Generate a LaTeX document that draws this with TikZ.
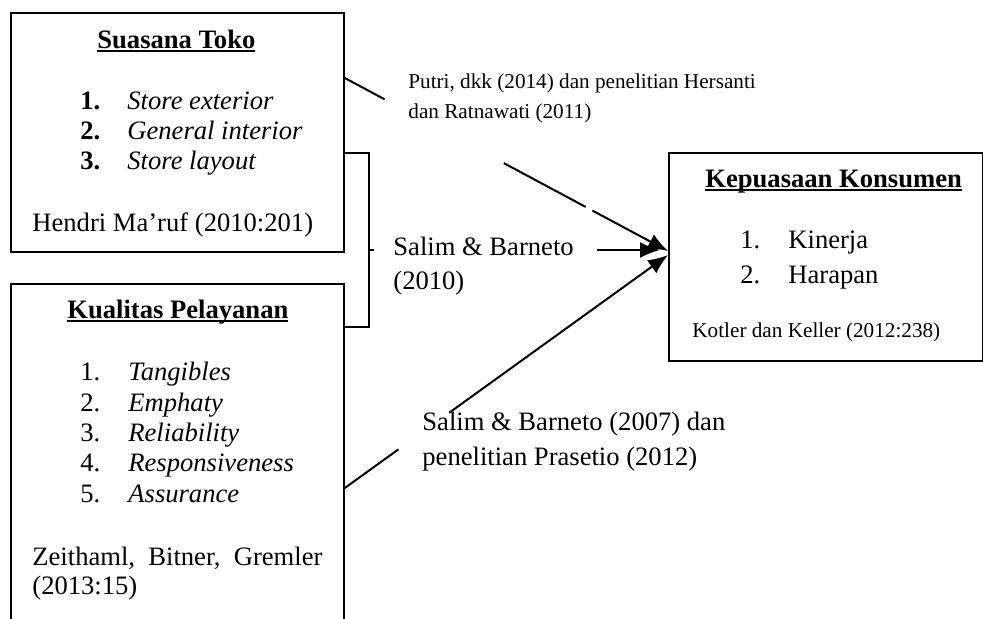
\documentclass[tikz,border=0pt]{standalone}
\usepackage{fontspec}
\setmainfont{Liberation Serif}
\usetikzlibrary{arrows.meta,calc}
\newcommand{\besar}{\fontsize{13.3}{15}\selectfont}
\newcommand{\kecil}{\fontsize{10.6}{12}\selectfont}
\newlength{\lebarJudul}
\newcommand{\garisbawah}[1]{\settowidth{\lebarJudul}{#1}\rlap{\rule[-2.1pt]{\lebarJudul}{0.9pt}}#1}
\tikzset{%
    kotak/.style={draw, line width=0.9pt, inner sep=0pt, anchor=north west},
    teks/.style={inner sep=0pt, anchor=base west, font=\besar},
    teksKecil/.style={inner sep=0pt, anchor=base west, font=\kecil},
    garis/.style={line width=1pt},
    panah/.style={line width=1pt, -{Latex[length=10pt,width=8pt]}}
}

\begin{document}
\begin{tikzpicture}[x=0.5pt,y=-0.5pt]
    \useasboundingbox (0,0) rectangle (983,618);
    \clip (0,0) rectangle (983,618);
    % kotak variabel
    \node[kotak, minimum width=166.5pt, minimum height=119.5pt] (toko) at (10,12) {};
    \node[kotak, minimum width=166.5pt, minimum height=178.5pt] (layanan) at (10,283) {};
    \node[kotak, minimum width=157pt, minimum height=104pt] (puas) at (668,152) {};

    \node[teks] (judulToko) at (97,48) {\garisbawah{\textbf{Suasana Toko}}};
    \foreach \teks [count=\i] in {Store exterior, General interior, Store layout}
    {
    \node[teks] (noToko\i) at (80,79+30*\i) {\textbf{\i.}};
    \node[teks] (itemToko\i) at (127,79+30*\i) {\textit{\teks}};
    }
    \node[teks] (sumberToko) at (32,231) {Hendri Ma’ruf (2010:201)};

    \node[teks] (judulLayanan) at (67,318) {\garisbawah{\textbf{Kualitas Pelayanan}}};
    \foreach \teks [count=\i] in {Tangibles, Emphaty, Reliability, Responsiveness, Assurance}
    {
    \node[teks] (noLayanan\i) at (80,350.5+30.3*\i) {\i.};
    \node[teks] (itemLayanan\i) at (128,350.5+30.3*\i) {\textit{\teks}};
    }
    \node[teks] (sumberLayanan1) at (32,565) {\makebox[145pt][s]{Zeithaml, Bitner, Gremler}};
    \node[teks] (sumberLayanan2) at (32,594) {(2013:15)};

    \node[teks] (judulPuas) at (705,187) {\garisbawah{\textbf{Kepuasaan Konsumen}}};
    \foreach \teks [count=\i] in {Kinerja, Harapan}
    {
    \node[teks] (noPuas\i) at (740,213+35*\i) {\i.};
    \node[teks] (itemPuas\i) at (788,213+35*\i) {\teks};
    }
    \node[teksKecil] (sumberPuas) at (692,337) {Kotler dan Keller (2012:238)};

    % titik hubung
    \coordinate (dariToko) at ($(toko.north east)+(0,66)$);
    \coordinate (kurungA) at ($(toko.north east)+(0,141)$);
    \coordinate (kurungB) at ($(layanan.north east)+(0,44)$);
    \coordinate (kurungT) at ($(kurungA)+(24,97)$);
    \coordinate (dariLayanan) at ($(layanan.north east)+(0,205)$);
    \coordinate (masukAtas) at ($(puas.north west)+(0,99)$);
    \coordinate (masukTengah) at ($(puas.north west)+(-8,98)$);
    \coordinate (masukBawah) at ($(puas.north west)+(0,103)$);

    \draw[garis] (kurungA) -- ++(24,0) -- ++(0,174) -- (kurungB);

    \draw[garis] (dariToko) -- ($(dariToko)!0.123!(masukAtas)$);
    \draw[garis] ($(dariToko)!0.492!(masukAtas)$) -- ($(dariToko)!0.745!(masukAtas)$);
    \draw[panah] ($(dariToko)!0.766!(masukAtas)$) -- (masukAtas);

    \draw[garis] (kurungT) -- ++(5,0);
    \draw[panah] ($(kurungT)!0.785!(masukTengah)$) -- (masukTengah);

    \draw[garis] (dariLayanan) -- ($(dariLayanan)!0.166!(masukBawah)$);
    \draw[panah] ($(dariLayanan)!0.323!(masukBawah)$) -- (masukBawah);

    % label hubungan
    \node[teksKecil] (putri1) at (408,88) {Putri, dkk (2014) dan penelitian Hersanti};
    \node[teksKecil] (putri2) at (408,118) {dan Ratnawati (2011)};
    \node[teks] (salimA1) at (393,255) {Salim \& Barneto};
    \node[teks] (salimA2) at (393,289) {(2010)};
    \node[teks] (salimB1) at (422,430) {Salim \& Barneto (2007) dan};
    \node[teks] (salimB2) at (422,465) {penelitian Prasetio (2012)};
\end{tikzpicture}
\end{document}
